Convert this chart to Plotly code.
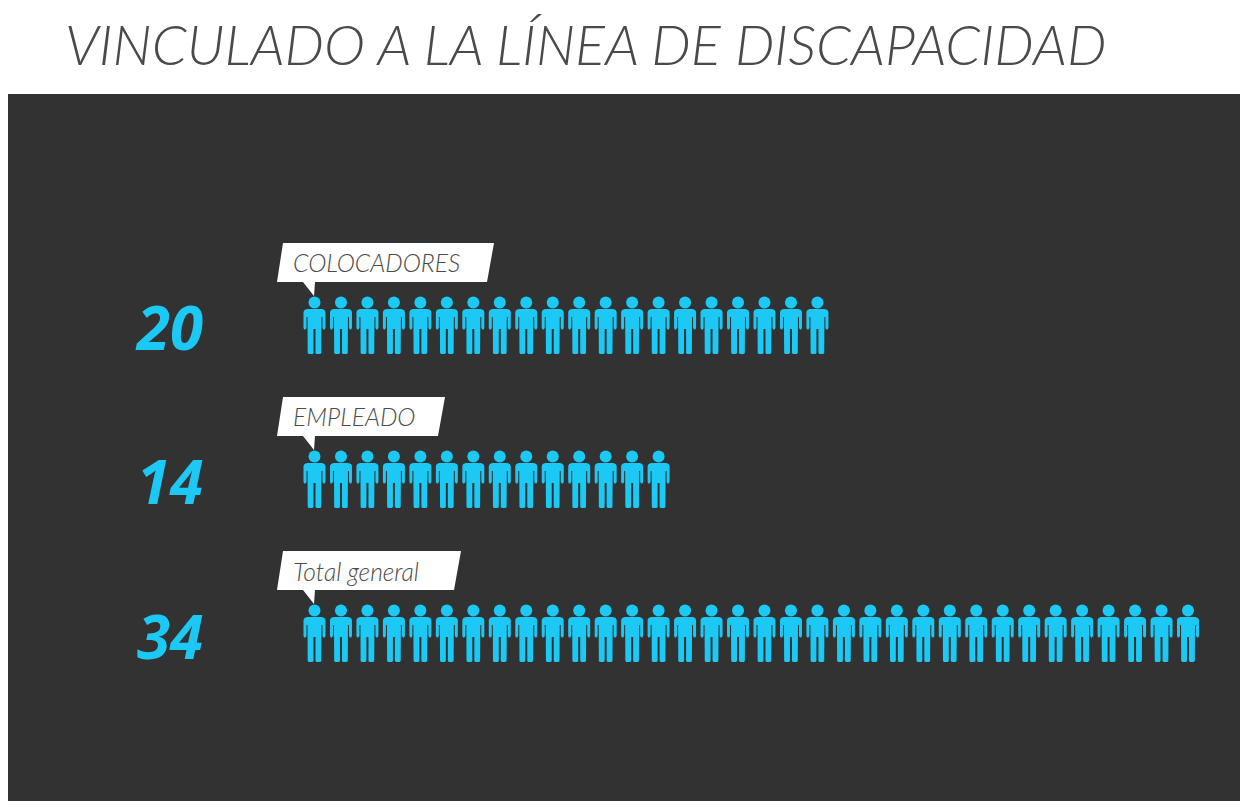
"""Pictograma: vinculado a la línea de discapacidad."""

import plotly.graph_objects as go

# datos
categorias = ["COLOCADORES", "EMPLEADO", "Total general"]
valores = [20, 14, 34]

# estilos
CYAN = "#1cc8f4"
PANEL = "#323232"
TEXTO = "#4a4a4a"
FUENTE = "Lato"
ANCHO, ALTO = 1240, 801

# escala de los ejes: una persona por unidad en x, una fila por unidad en y
PX_X = 26.47
PX_Y = 154.0
X0_PX, Y0_PX = 314.5, 325.0
PANEL_IZQ, PANEL_SUP = 8, 94

# ancho de cada globo (derecha en px)
globo_derecha = [494, 445, 461]

# silueta del cuerpo, en px respecto al centro de la persona
mitad = [
    (0, -16), (7.5, -16), (10, -15), (11, -13), (11, 3), (10.2, 4.5), (9, 4.5),
    (8, 3), (8, -8), (7, -8), (6.8, 28), (5.8, 29), (2, 29), (1, 28), (1, 4), (0, 4),
]
cuerpo = mitad + [(-x, y) for x, y in reversed(mitad)]


def dx(px):
    return (px - X0_PX) / PX_X


def dy(px):
    return (px - Y0_PX) / PX_Y


fig = go.Figure()

for fila, (cat, val) in enumerate(zip(categorias, valores)):
    # cuerpos
    xs, ys = [], []
    for i in range(val):
        xs += [i + a / PX_X for a, _ in cuerpo] + [None]
        ys += [fila + b / PX_Y for _, b in cuerpo] + [None]
    fig.add_trace(go.Scatter(
        x=xs, y=ys, mode="lines", fill="toself", fillcolor=CYAN,
        line=dict(width=0, color=CYAN), name=cat, hoverinfo="skip",
    ))
    # cabezas
    fig.add_trace(go.Scatter(
        x=list(range(val)), y=[fila + dy(302.5) for _ in range(val)], mode="markers",
        marker=dict(size=12, color=CYAN, line=dict(width=0)),
        name=cat, hovertemplate=f"{cat}: {val}<extra></extra>",
    ))
    # globo de la etiqueta
    y_sup, y_inf = fila + dy(243), fila + dy(282)
    der = globo_derecha[fila]
    fig.add_trace(go.Scatter(
        x=[dx(283), dx(der), dx(der - 7), dx(315), dx(314), dx(303), dx(277), dx(283)],
        y=[y_sup, y_sup, y_inf, y_inf, fila + dy(296), y_inf, y_inf, y_sup],
        mode="lines", fill="toself", fillcolor="#ffffff",
        line=dict(width=0, color="#ffffff"), hoverinfo="skip",
    ))
    fig.add_annotation(
        x=dx(291), y=fila + dy(263), text=f"<i>{cat}</i>", showarrow=False,
        xanchor="left", yanchor="middle",
        font=dict(family=FUENTE, size=24.6, color=TEXTO, weight=300),
    )
    # número grande
    fig.add_annotation(
        x=dx(205), y=fila + dy(327.5), text=f"<b><i>{val}</i></b>", showarrow=False,
        xanchor="right", yanchor="middle",
        font=dict(family="Open Sans", size=60, color=CYAN),
    )

fig.add_annotation(
    xref="paper", yref="paper", x=63 / ANCHO, y=1 - 43.5 / ALTO,
    text="<i>VINCULADO A LA LÍNEA DE DISCAPACIDAD</i>", showarrow=False,
    xanchor="left", yanchor="middle",
    font=dict(family=FUENTE, size=55.8, color=TEXTO, weight=300),
)

fig.update_layout(
    width=ANCHO, height=ALTO,
    margin=dict(l=0, r=0, t=0, b=0),
    paper_bgcolor="#ffffff", plot_bgcolor=PANEL,
    showlegend=False,
    xaxis=dict(
        domain=[PANEL_IZQ / ANCHO, 1], range=[dx(PANEL_IZQ), dx(ANCHO)],
        visible=False, fixedrange=True,
    ),
    yaxis=dict(
        domain=[0, 1 - PANEL_SUP / ALTO], range=[dy(ALTO), dy(PANEL_SUP)],
        visible=False, fixedrange=True,
    ),
)

fig.write_html(
    "out.html",
    config={"displayModeBar": False},
    post_script="document.body.style.margin='0';document.body.style.overflow='hidden';",
)
